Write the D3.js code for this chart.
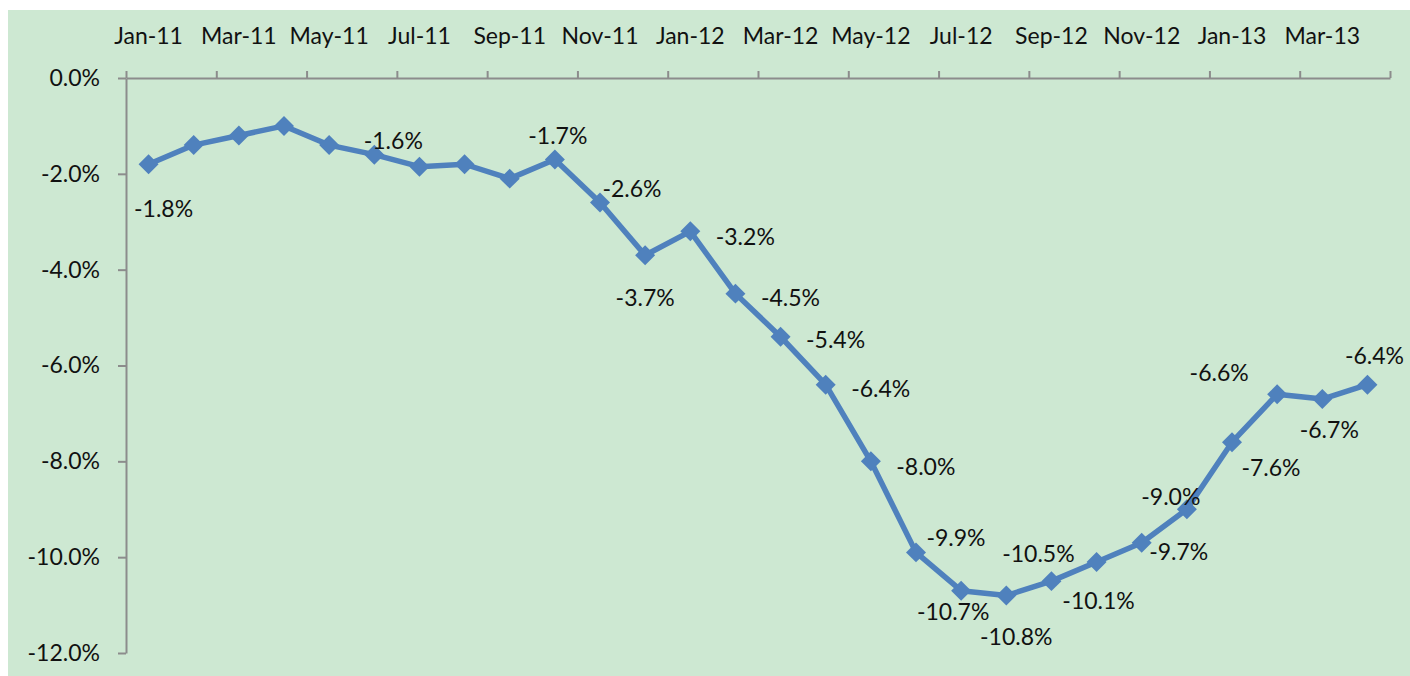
<!DOCTYPE html>
<html>
<head>
<meta charset="utf-8">
<script src="https://cdn.jsdelivr.net/npm/d3@7"></script>
<style>
  html, body { margin: 0; padding: 0; background: #fff; }
  svg text { font-family: Lato, "Open Sans", sans-serif; fill: #111; }
</style>
</head>
<body>
<div id="chart"></div>
<script>
const width  = 1410;
const height = 676;

// Data
const months = ["Jan-11","Feb-11","Mar-11","Apr-11","May-11","Jun-11","Jul-11","Aug-11","Sep-11","Oct-11","Nov-11","Dec-11",
                "Jan-12","Feb-12","Mar-12","Apr-12","May-12","Jun-12","Jul-12","Aug-12","Sep-12","Oct-12","Nov-12","Dec-12",
                "Jan-13","Feb-13","Mar-13","Apr-13"];
const values = [-1.8, -1.4, -1.2, -1.0, -1.4, -1.6, -1.85, -1.8, -2.1, -1.7, -2.6, -3.7,
                -3.2, -4.5, -5.4, -6.4, -8.0, -9.9, -10.7, -10.8, -10.5, -10.1, -9.7, -9.0,
                -7.6, -6.6, -6.7, -6.4];
const yTicks = [0, -2, -4, -6, -8, -10, -12];

// Where each data label sits relative to its point (null = no label)
const labelOffsets = [[15, 44], null, null, null, null, [19, -14], null, null, null, [3, -24], [32, -14], [0, 42],
                      [55, 5], [55, 4], [55, 3], [55, 4], [55, 5], [40, -15], [-8, 21], [10, 41], [-13, -27], [2, 39], [37, 9], [-16, -13],
                      [39, 26], [-58, -22], [7, 31], [7, -29]];

const plot = { left: 126, right: 1390, top: 78, bottom: 653 };

// plain hyphen for negatives, as in the original
const locale = d3.formatLocale({ decimal: ".", thousands: ",", grouping: [3], currency: ["", ""], minus: "-" });
const pct = d => locale.format(".1f")(d) + "%";

const svg = d3.select("#chart").append("svg")
    .attr("width", width)
    .attr("height", height);

// green chart area
svg.append("rect")
    .attr("x", 8).attr("y", 10)
    .attr("width", width - 8).attr("height", height - 10)
    .attr("fill", "#cde8d2");

const x = d3.scaleBand()
    .domain(months)
    .range([plot.left, plot.right])
    .padding(0);

const xEdges = d3.scaleLinear()
    .domain([0, months.length])
    .range([plot.left, plot.right]);

const y = d3.scaleLinear()
    .domain([-12, 0])
    .range([plot.bottom, plot.top]);

const axisColour = "#8c8c8c";

// x axis: tick marks on category boundaries, every two months
const xTickAxis = svg.append("g")
    .attr("transform", "translate(0," + plot.top + ")")
    .call(d3.axisTop(xEdges)
      .tickValues(d3.range(0, months.length + 1, 2))
      .tickSize(7)
      .tickSizeOuter(0)
      .tickFormat(""));
xTickAxis.selectAll("line, path").attr("stroke", axisColour).attr("stroke-width", 2);

// x axis labels, centred on the first month of each pair
const xLabelAxis = svg.append("g")
    .attr("transform", "translate(0," + plot.top + ")")
    .call(d3.axisTop(x)
      .tickValues(months.filter((m, i) => i % 2 == 0))
      .tickSize(0)
      .tickPadding(34));
xLabelAxis.select(".domain").remove();
xLabelAxis.selectAll("text")
    .style("font-size", "23px")
    .style("font-family", "Lato, sans-serif")
    .attr("fill", "#111");

// y axis
const yAxis = svg.append("g")
    .attr("transform", "translate(" + plot.left + ",0)")
    .call(d3.axisLeft(y)
      .tickValues(yTicks)
      .tickSize(8)
      .tickSizeOuter(0)
      .tickPadding(18)
      .tickFormat(pct));
yAxis.selectAll("line, path").attr("stroke", axisColour).attr("stroke-width", 2);
yAxis.selectAll("text")
    .style("font-size", "23px")
    .style("font-family", "Lato, sans-serif")
    .attr("fill", "#111");

const points = months.map((m, i) => ({ month: m, value: values[i], offset: labelOffsets[i] }));
const cx = d => x(d.month) + x.bandwidth() / 2;

const line = d3.line()
    .x(cx)
    .y(d => y(d.value));

svg.append("path")
    .datum(points)
    .attr("d", line)
    .attr("fill", "none")
    .attr("stroke", "#4f81bd")
    .attr("stroke-width", 5.5)
    .attr("stroke-linejoin", "round");

const diamond = d3.symbol().type(d3.symbolSquare).size(200);

svg.selectAll(".marker")
    .data(points).enter()
    .append("path")
      .attr("class", "marker")
      .attr("d", diamond)
      .attr("transform", d => "translate(" + cx(d) + "," + y(d.value) + ") rotate(45)")
      .attr("fill", "#4f81bd");

svg.selectAll(".value-label")
    .data(points.filter(d => d.offset)).enter()
    .append("text")
      .attr("class", "value-label")
      .attr("x", d => cx(d) + d.offset[0])
      .attr("y", d => y(d.value) + d.offset[1])
      .attr("text-anchor", "middle")
      .attr("dy", "0.36em")
      .style("font-size", "23px")
      .text(d => pct(d.value));
</script>
</body>
</html>
